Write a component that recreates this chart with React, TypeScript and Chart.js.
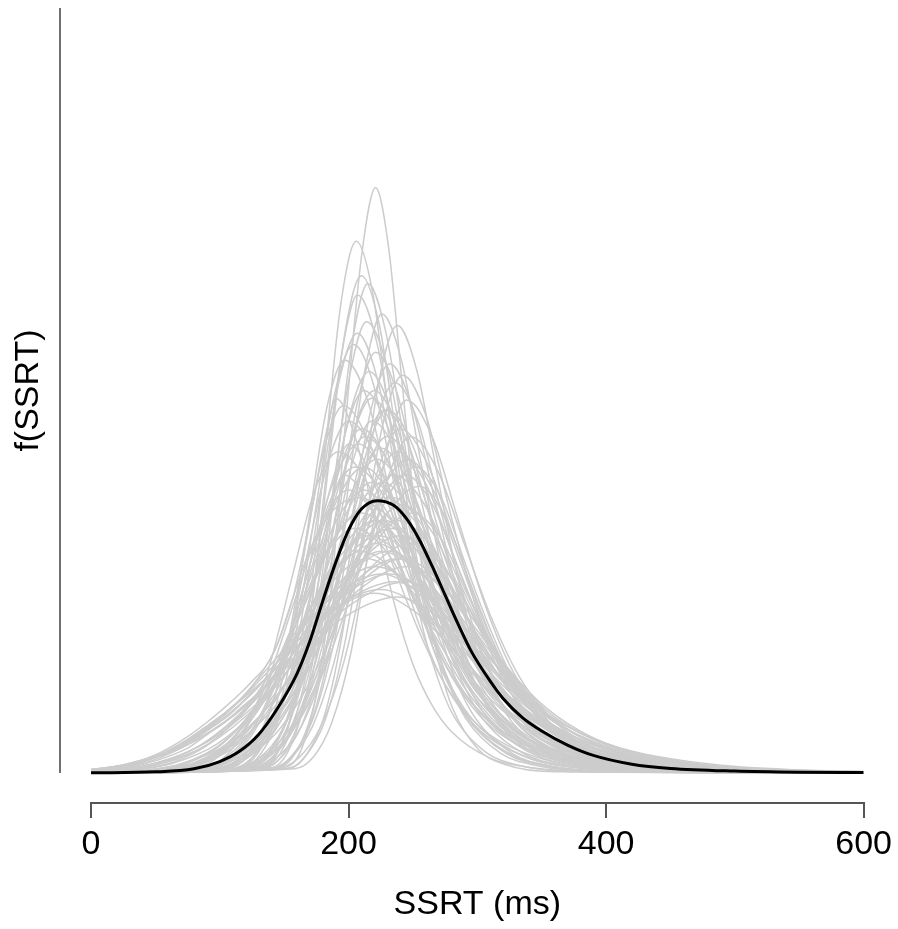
import React, { useEffect, useRef } from "react";
import { Chart, registerables } from "chart.js";

Chart.register(...registerables);

// ---- axis / text content ----
const X_TICKS = [0, 200, 400, 600];
const X_TITLE = "SSRT (ms)";
const Y_TITLE = "f(SSRT)";
const X_MIN = 0;
const X_MAX = 600;
// density in units of 1e-4 per ms
const Y_MAX = 200;
const Y_BELOW = 7.843; // room between baseline and the detached x axis
const FONT = '"Liberation Sans", Arial, Helvetica, sans-serif';

// ---- mean density (black) : [SSRT ms, density] ----
const meanCurve = [[0,0.05],[50,0.3],[80,1.1],[100,3],[115,5.6],[130,10],[145,17],[160,26],[170,34.5],[180,45],[190,55],[200,63.5],[210,69],[222,71.2],[235,70],[245,66.5],[255,61],[265,54],[275,46.5],[285,39],[295,32],[310,24],[320,19.5],[335,14.5],[350,11],[370,7.3],[390,4.6],[420,2.3],[450,1.2],[500,0.5],[550,0.2],[600,0.1]];

// ---- individual densities (grey) ----
const g01 = [[0,0],[152,1.7],[164,6.7],[175,20.7],[187,49.7],[198,92.9],[210,134.9],[221,153],[231,137.7],[241,104],[251,70.4],[261,44.4],[271,27.5],[281,16.8],[301,6.1],[321,2.3],[361,0.3],[600,0]];
const g02 = [[0,0],[134,1.5],[146,6.1],[158,18.8],[170,45.2],[182,84.4],[194,122.6],[206,139],[219,125.1],[231,94.5],[244,63.9],[256,40.3],[269,25],[281,15.3],[306,5.6],[331,2.1],[381,0.3],[600,0]];
const g03 = [[0,0],[132,1.4],[145,5.7],[158,17.6],[171,42.3],[184,78.9],[197,114.7],[210,130],[224,117],[237,88.4],[251,59.8],[264,37.7],[278,23.4],[291,14.3],[318,5.2],[345,2],[399,0.3],[600,0]];
const g04 = [[0,0],[132,1.4],[145,5.5],[157,16.9],[170,40.6],[182,75.9],[195,110.3],[207,125],[222,112.5],[236,85],[251,57.5],[265,36.3],[280,22.5],[294,13.8],[323,5],[352,1.9],[410,0.3],[600,0]];
const g05 = [[0,0],[133,1.3],[147,5.2],[160,15.9],[174,38.4],[187,71.6],[201,104.1],[214,118],[230,106.2],[245,80.2],[261,54.3],[276,34.2],[292,21.2],[307,13],[338,4.7],[369,1.8],[431,0.2],[600,0]];
const g06 = [[0,0],[117,1.3],[132,5.1],[147,15.5],[162,37.4],[177,69.8],[192,101.4],[207,115],[222,103.5],[237,78.2],[252,52.9],[267,33.4],[282,20.7],[297,12.7],[327,4.6],[357,1.7],[417,0.2],[600,0]];
const g07 = [[0,0],[154,1.3],[168,5.1],[182,15.8],[196,38],[210,71],[224,103.2],[238,117],[253,105.3],[268,79.6],[283,53.8],[298,33.9],[313,21.1],[328,12.9],[358,4.7],[388,1.8],[448,0.2],[600,0]];
const g08 = [[0,0],[134,1.2],[149,4.8],[163,14.9],[178,35.8],[192,66.8],[207,97],[221,110],[238,99],[254,74.8],[271,50.6],[287,31.9],[304,19.8],[320,12.1],[353,4.4],[386,1.7],[452,0.2],[600,0]];
const g09 = [[0,0],[142,1.2],[157,4.7],[172,14.4],[187,34.8],[202,64.9],[217,94.4],[232,107],[249,96.3],[266,72.8],[283,49.2],[300,31],[317,19.3],[334,11.8],[368,4.3],[402,1.6],[470,0.2],[600,0]];
const g10 = [[0,0],[120,1.2],[136,4.6],[152,14.2],[168,34.1],[184,63.7],[200,92.6],[216,105],[233,94.5],[249,71.4],[266,48.3],[282,30.5],[299,18.9],[315,11.6],[348,4.2],[381,1.6],[447,0.2],[600,0]];
const g11 = [[0,0],[158,1.1],[173,4.3],[187,13.2],[202,31.7],[216,59.2],[231,86],[245,97.5],[265,87.8],[285,66.3],[305,44.9],[325,28.3],[345,17.6],[365,10.7],[405,3.9],[445,1.5],[525,0.2],[600,0]];
const g13 = [[0,0],[118,1.1],[135,4.4],[152,13.5],[169,32.5],[186,60.7],[203,88.2],[220,100],[238,90],[255,68],[273,46],[290,29],[308,18],[325,11],[360,4],[395,1.5],[465,0.2],[600,0]];
const g14 = [[0,0],[123,1],[141,4.2],[158,12.8],[176,30.9],[193,57.7],[211,83.8],[228,95],[247,85.5],[265,64.6],[284,43.7],[302,27.6],[321,17.1],[339,10.5],[376,3.8],[413,1.4],[487,0.2],[600,0]];
const g15 = [[0,0],[101,1],[118,4],[134,12.4],[151,29.9],[167,55.8],[184,81.1],[200,92],[221,82.8],[241,62.6],[262,42.3],[282,26.7],[303,16.6],[323,10.1],[364,3.7],[405,1.4],[487,0.2],[600,0]];
const g16 = [[0,0],[138,1],[155,4],[172,12.2],[189,29.3],[206,54.6],[223,79.4],[240,90],[261,81],[282,61.2],[303,41.4],[324,26.1],[345,16.2],[366,9.9],[408,3.6],[450,1.4],[534,0.2],[600,0]];
const g17 = [[0,0],[102,1],[121,3.9],[139,11.9],[158,28.6],[176,53.4],[195,77.6],[213,88],[234,79.2],[254,59.8],[275,40.5],[295,25.5],[316,15.8],[336,9.7],[377,3.5],[418,1.3],[500,0.2],[600,0]];
const g18 = [[0,0],[111,0.9],[130,3.7],[149,11.5],[168,27.6],[187,51.6],[206,75],[225,85],[246,76.5],[267,57.8],[288,39.1],[309,24.7],[330,15.3],[351,9.4],[393,3.4],[435,1.3],[519,0.2],[600,0]];
const g19 = [[0,0],[111,0.9],[134,3.6],[156,11.1],[179,26.7],[201,49.8],[224,72.3],[246,82],[266,73.8],[286,55.8],[306,37.7],[326,23.8],[346,14.8],[366,9],[406,3.3],[446,1.2],[526,0.2],[600,0]];
const g20 = [[0,0],[85,0.9],[105,3.5],[125,10.8],[145,26],[165,48.6],[185,70.6],[205,80],[228,72],[250,54.4],[273,36.8],[295,23.2],[318,14.4],[340,8.8],[385,3.2],[430,1.2],[520,0.2],[600,0]];
const g21 = [[0,0],[115,0.9],[135,3.4],[155,10.5],[175,25.4],[195,47.3],[215,68.8],[235,78],[259,70.2],[282,53],[306,35.9],[329,22.6],[353,14],[376,8.6],[423,3.1],[470,1.2],[564,0.2],[600,0.1]];
const g22 = [[0,0],[92,0.8],[113,3.3],[134,10.3],[155,24.7],[176,46.1],[197,67],[218,76],[242,68.4],[266,51.7],[290,35],[314,22],[338,13.7],[362,8.4],[410,3],[458,1.1],[554,0.2],[600,0.1]];
const g24 = [[0,0],[96,0.8],[118,3.2],[140,9.7],[162,23.4],[184,43.7],[206,63.5],[228,72],[254,64.8],[279,49],[305,33.1],[330,20.9],[356,13],[381,7.9],[432,2.9],[483,1.1],[585,0.1],[600,0.1]];
const g25 = [[0,0],[77,0.8],[105,3.1],[132,9.5],[160,22.8],[187,42.5],[215,61.7],[242,70],[265,63],[287,47.6],[310,32.2],[332,20.3],[355,12.6],[377,7.7],[422,2.8],[467,1.1],[557,0.1],[600,0.1]];
const g26 = [[0,0],[66,0.7],[90,3],[114,9.2],[138,22.1],[162,41.3],[186,60],[210,68],[236,61.2],[262,46.2],[288,31.3],[314,19.7],[340,12.2],[366,7.5],[418,2.7],[470,1],[574,0.1],[600,0.1]];
const g27 = [[0,0],[81,0.7],[105,2.9],[128,8.9],[152,21.5],[175,40.1],[199,58.2],[222,66],[250,59.4],[278,44.9],[306,30.4],[334,19.1],[362,11.9],[390,7.3],[446,2.6],[502,1],[600,0.2]];
const g28 = [[0,0],[88,0.7],[112,2.8],[136,8.6],[160,20.8],[184,38.8],[208,56.4],[232,64],[261,57.6],[290,43.5],[319,29.4],[348,18.6],[377,11.5],[406,7],[464,2.6],[522,1],[600,0.3]];
const g29 = [[0,0],[59,0.7],[85,2.7],[111,8.4],[137,20.2],[163,37.6],[189,54.7],[215,62],[244,55.8],[273,42.2],[302,28.5],[331,18],[360,11.2],[389,6.8],[447,2.5],[505,0.9],[600,0.2]];
const g30 = [[0,0],[47,0.7],[81,2.6],[114,8.1],[148,19.5],[181,36.4],[215,52.9],[248,60],[273,54],[298,40.8],[323,27.6],[348,17.4],[373,10.8],[398,6.6],[448,2.4],[498,0.9],[600,0.1]];
const g31 = [[0,0],[60,0.6],[88,2.6],[115,7.8],[143,18.9],[170,35.2],[198,51.2],[225,58],[256,52.2],[287,39.4],[318,26.7],[349,16.8],[380,10.4],[411,6.4],[473,2.3],[535,0.9],[600,0.35]];
const g32 = [[0,0],[28,0.6],[63,2.5],[98,7.6],[133,18.2],[168,34],[203,49.4],[238,56],[266,50.4],[293,38.1],[321,25.8],[348,16.2],[376,10.1],[403,6.2],[458,2.2],[513,0.8],[600,0.2]];
const g33 = [[0,0],[40,0.6],[70,2.4],[100,7.3],[130,17.6],[160,32.8],[190,47.6],[220,54],[253,48.6],[286,36.7],[319,24.8],[352,15.7],[385,9.7],[418,5.9],[484,2.2],[550,0.8],[600,0.4]];
const g34 = [[0,0.2],[10,0.6],[47,2.3],[84,7],[121,16.9],[158,31.6],[195,45.9],[232,52],[262,46.8],[292,35.4],[322,23.9],[352,15.1],[382,9.4],[412,5.7],[472,2.1],[532,0.8],[600,0.3]];
const g35 = [[0,0.9],[28,2.2],[71,6.8],[115,16.3],[158,30.4],[202,44.1],[245,50],[273,45],[300,34],[328,23],[355,14.5],[383,9],[410,5.5],[465,2],[520,0.8],[600,0.2]];
const g36 = [[0,0.9],[25,2.1],[65,6.5],[105,15.6],[145,29.1],[185,42.3],[225,48],[256,43.2],[287,32.6],[318,22.1],[349,13.9],[380,8.6],[411,5.3],[473,1.9],[535,0.7],[600,0.3]];
const g37 = [[0,0.9],[26,2],[68,6.2],[111,15],[153,27.9],[196,40.6],[238,46],[267,41.4],[296,31.3],[325,21.2],[354,13.3],[383,8.3],[412,5.1],[470,1.8],[528,0.7],[600,0.3]];
const g39 = [[0,0],[113,1.2],[127,4.8],[141,14.6],[155,35.1],[169,65.6],[183,95.3],[197,108],[215,97.2],[232,73.4],[250,49.7],[267,31.3],[285,19.4],[302,11.9],[337,4.3],[372,1.6],[442,0.2],[600,0]];
const g40 = [[0,0],[143,1],[161,3.9],[178,11.9],[196,28.6],[213,53.4],[231,77.6],[248,88],[269,79.2],[290,59.8],[311,40.5],[332,25.5],[353,15.8],[374,9.7],[416,3.5],[458,1.3],[542,0.2],[600,0]];
const g41 = [[0,0],[84,0.9],[102,3.7],[120,11.3],[138,27.3],[156,51],[174,74.1],[192,84],[215,75.6],[237,57.1],[260,38.6],[282,24.4],[305,15.1],[327,9.2],[372,3.4],[417,1.3],[507,0.2],[600,0]];
const g42 = [[0,0],[87,0.8],[115,3.3],[143,10.1],[171,24.4],[199,45.5],[227,66.2],[255,75],[274,67.5],[293,51],[312,34.5],[331,21.8],[350,13.5],[369,8.3],[407,3],[445,1.1],[521,0.2],[600,0]];
const g43 = [[0,0],[122,1.1],[137,4.4],[152,13.5],[167,32.5],[182,60.7],[197,88.2],[212,100],[231,90],[250,68],[269,46],[288,29],[307,18],[326,11],[364,4],[402,1.5],[478,0.2],[600,0]];
const g44 = [[0,0],[140,1.1],[156,4.5],[172,13.8],[188,33.2],[204,61.9],[220,90],[236,102],[254,91.8],[271,69.4],[289,46.9],[306,29.6],[324,18.4],[341,11.2],[376,4.1],[411,1.5],[481,0.2],[600,0]];
const n01 = [[0,0],[125,1],[141,4],[156,12.4],[172,29.9],[187,55.8],[203,81.1],[218,92],[239,82.8],[260,62.6],[281,42.3],[302,26.7],[323,16.6],[344,10.1],[386,3.7],[428,1.4],[512,0.2],[600,0]];
const n02 = [[0,0],[122,1],[140,3.9],[158,11.9],[176,28.6],[194,53.4],[212,77.6],[230,88],[251,79.2],[271,59.8],[292,40.5],[312,25.5],[333,15.8],[353,9.7],[394,3.5],[435,1.3],[517,0.2],[600,0]];
const n03 = [[0,0],[88,0.9],[108,3.8],[128,11.6],[148,28],[168,52.2],[188,75.9],[208,86],[228,77.4],[248,58.5],[268,39.6],[288,24.9],[308,15.5],[328,9.5],[368,3.4],[408,1.3],[488,0.2],[600,0]];
const n04 = [[0,0],[124,0.9],[143,3.7],[162,11.3],[181,27.3],[200,51],[219,74.1],[238,84],[260,75.6],[281,57.1],[303,38.6],[324,24.4],[346,15.1],[367,9.2],[410,3.4],[453,1.3],[539,0.2],[600,0]];
const n05 = [[0,0],[96,0.9],[117,3.6],[138,11.1],[159,26.7],[180,49.8],[201,72.3],[222,82],[243,73.8],[264,55.8],[285,37.7],[306,23.8],[327,14.8],[348,9],[390,3.3],[432,1.2],[516,0.2],[600,0]];
const n06 = [[0,0],[80,0.9],[102,3.5],[124,10.8],[146,26],[168,48.6],[190,70.6],[212,80],[233,72],[254,54.4],[275,36.8],[296,23.2],[317,14.4],[338,8.8],[380,3.2],[422,1.2],[506,0.2],[600,0]];
const n07 = [[0,0],[106,0.9],[129,3.4],[152,10.5],[175,25.4],[198,47.3],[221,68.8],[244,78],[265,70.2],[286,53],[307,35.9],[328,22.6],[349,14],[370,8.6],[412,3.1],[454,1.2],[538,0.2],[600,0]];
const n08 = [[0,0],[94,0.8],[116,3.3],[138,10.3],[160,24.7],[182,46.1],[204,67],[226,76],[249,68.4],[272,51.7],[295,35],[318,22],[341,13.7],[364,8.4],[410,3],[456,1.1],[548,0.2],[600,0.1]];
const n09 = [[0,0],[74,0.8],[95,3.3],[116,10],[137,24.1],[158,44.9],[179,65.3],[200,74],[222,66.6],[244,50.3],[266,34],[288,21.5],[310,13.3],[332,8.1],[376,3],[420,1.1],[508,0.1],[600,0]];
const n10 = [[0,0],[84,0.8],[109,3.2],[134,9.7],[159,23.4],[184,43.7],[209,63.5],[234,72],[257,64.8],[280,49],[303,33.1],[326,20.9],[349,13],[372,7.9],[418,2.9],[464,1.1],[556,0.1],[600,0.1]];
const n11 = [[0,0],[60,0.8],[86,3.1],[112,9.5],[138,22.8],[164,42.5],[190,61.7],[216,70],[240,63],[263,47.6],[287,32.2],[310,20.3],[334,12.6],[357,7.7],[404,2.8],[451,1.1],[545,0.1],[600,0.1]];
const n12 = [[0,0],[70,0.7],[100,3],[130,9.2],[160,22.1],[190,41.3],[220,60],[250,68],[272,61.2],[293,46.2],[315,31.3],[336,19.7],[358,12.2],[379,7.5],[422,2.7],[465,1],[551,0.1],[600,0.1]];
const n13 = [[0,0],[60,0.7],[88,2.9],[116,8.9],[144,21.5],[172,40.1],[200,58.2],[228,66],[253,59.4],[277,44.9],[302,30.4],[326,19.1],[351,11.9],[375,7.3],[424,2.6],[473,1],[571,0.1],[600,0.1]];
const n14 = [[0,0],[61,0.7],[85,2.8],[109,8.6],[133,20.8],[157,38.8],[181,56.4],[205,64],[230,57.6],[254,43.5],[279,29.4],[303,18.6],[328,11.5],[352,7],[401,2.6],[450,1],[548,0.1],[600,0.1]];
const n15 = [[0,0],[48,0.7],[80,2.7],[112,8.4],[144,20.2],[176,37.6],[208,54.7],[240,62],[265,55.8],[289,42.2],[314,28.5],[338,18],[363,11.2],[387,6.8],[436,2.5],[485,0.9],[583,0.1],[600,0.1]];
const n16 = [[0,0],[30,0.7],[62,2.6],[94,8.1],[126,19.5],[158,36.4],[190,52.9],[222,60],[248,54],[274,40.8],[300,27.6],[326,17.4],[352,10.8],[378,6.6],[430,2.4],[482,0.9],[586,0.1],[600,0.1]];
const n17 = [[0,0.1],[22,0.6],[57,2.6],[92,7.8],[127,18.9],[162,35.2],[197,51.2],[232,58],[258,52.2],[283,39.4],[309,26.7],[334,16.8],[360,10.4],[385,6.4],[436,2.3],[487,0.9],[589,0.1],[600,0.1]];
const n18 = [[0,0],[46,0.6],[74,2.5],[102,7.6],[130,18.2],[158,34],[186,49.4],[214,56],[242,50.4],[269,38.1],[297,25.8],[324,16.2],[352,10.1],[379,6.2],[434,2.2],[489,0.8],[599,0.1]];
const n19 = [[0,0.3],[12,0.6],[51,2.4],[90,7.3],[129,17.6],[168,32.8],[207,47.6],[246,54],[273,48.6],[299,36.7],[326,24.8],[352,15.7],[379,9.7],[405,5.9],[458,2.2],[511,0.8],[617,0.1]];
const n20 = [[0,0.8],[31,2.3],[70,7],[109,16.9],[148,31.6],[187,45.9],[226,52],[255,46.8],[283,35.4],[312,23.9],[340,15.1],[369,9.4],[397,5.7],[454,2.1],[511,0.8],[625,0.1]];
const n21 = [[0,0.9],[26,2.2],[68,6.8],[110,16.3],[152,30.4],[194,44.1],[236,50],[265,45],[293,34],[322,23],[350,14.5],[379,9],[407,5.5],[464,2],[521,0.8],[635,0.1]];
const n22 = [[0,0.3],[10,0.5],[45,2.1],[80,6.3],[115,15.3],[150,28.5],[185,41.5],[220,47],[251,42.3],[282,32],[313,21.6],[344,13.6],[375,8.5],[406,5.2],[468,1.9],[530,0.7],[654,0.1]];
const n23 = [[0,0],[140,1.4],[153,5.6],[165,17.3],[178,41.6],[190,77.7],[203,112.9],[215,128],[229,115.2],[243,87],[257,58.9],[271,37.1],[285,23],[299,14.1],[327,5.1],[355,1.9],[411,0.3],[600,0]];
const n24 = [[0,0],[145,1.3],[159,5.3],[172,16.2],[186,39],[199,72.8],[213,105.8],[226,120],[241,108],[256,81.6],[271,55.2],[286,34.8],[301,21.6],[316,13.2],[346,4.8],[376,1.8],[436,0.2],[600,0]];
const n25 = [[0,0],[114,1.2],[129,4.9],[144,15.1],[159,36.4],[174,68],[189,98.8],[204,112],[220,100.8],[235,76.2],[251,51.5],[266,32.5],[282,20.2],[297,12.3],[328,4.5],[359,1.7],[421,0.2],[600,0]];
const n26 = [[0,0],[152,1.1],[167,4.6],[182,14],[197,33.8],[212,63.1],[227,91.7],[242,104],[260,93.6],[277,70.7],[295,47.8],[312,30.2],[330,18.7],[347,11.4],[382,4.2],[417,1.6],[487,0.2],[600,0]];
const n27 = [[0,0],[122,1.1],[138,4.3],[154,13.2],[170,31.9],[186,59.5],[202,86.4],[218,98],[237,88.2],[256,66.6],[275,45.1],[294,28.4],[313,17.6],[332,10.8],[370,3.9],[408,1.5],[484,0.2],[600,0]];
const n28 = [[0,0],[131,1],[148,4.2],[164,12.8],[181,30.9],[197,57.7],[214,83.8],[230,95],[250,85.5],[269,64.6],[289,43.7],[308,27.6],[328,17.1],[347,10.5],[386,3.8],[425,1.4],[503,0.2],[600,0]];
const n29 = [[0,0],[106,1.1],[121,4.2],[136,13],[151,31.2],[166,58.3],[181,84.7],[196,96],[216,86.4],[236,65.3],[256,44.2],[276,27.8],[296,17.3],[316,10.6],[356,3.8],[396,1.4],[476,0.2],[600,0]];
const n30 = [[0,0],[108,0.9],[132,3.5],[156,10.8],[180,26],[204,48.6],[228,70.6],[252,80],[272,72],[291,54.4],[311,36.8],[330,23.2],[350,14.4],[369,8.8],[408,3.2],[447,1.2],[525,0.2],[600,0]];
const n31 = [[0,0],[108,1],[125,4],[142,12.2],[159,29.3],[176,54.6],[193,79.4],[210,90],[231,81],[251,61.2],[272,41.4],[292,26.1],[313,16.2],[333,9.9],[374,3.6],[415,1.4],[497,0.2],[600,0]];
const n32 = [[0,0],[44,0.7],[74,2.7],[104,8.4],[134,20.2],[164,37.6],[194,54.7],[224,62],[250,55.8],[276,42.2],[302,28.5],[328,18],[354,11.2],[380,6.8],[432,2.5],[484,0.9],[588,0.1],[600,0.1]];
const n33 = [[0,0],[82,0.7],[108,2.9],[134,8.9],[160,21.5],[186,40.1],[212,58.2],[238,66],[264,59.4],[290,44.9],[316,30.4],[342,19.1],[368,11.9],[394,7.3],[446,2.6],[498,1],[602,0.1]];
const n34 = [[0,0],[54,0.6],[80,2.6],[106,7.8],[132,18.9],[158,35.2],[184,51.2],[210,58],[237,52.2],[264,39.4],[291,26.7],[318,16.8],[345,10.4],[372,6.4],[426,2.3],[480,0.9],[588,0.1],[600,0.1]];
const n35 = [[0,0],[38,0.6],[72,2.5],[106,7.6],[140,18.2],[174,34],[208,49.4],[242,56],[270,50.4],[298,38.1],[326,25.8],[354,16.2],[382,10.1],[410,6.2],[466,2.2],[522,0.8],[634,0.1]];
const k01 = [[0,0.5],[30,1.8],[53,4.5],[75,8.5],[92,12.5],[105,16],[118,20],[128,24],[136,28],[144,33],[150,38.5],[157,46],[165,58],[172,70],[179,83],[184,91],[190,98],[205,88],[220,67],[235,45],[250,28.4],[265,17.6],[280,10.8],[310,3.9],[340,1.5],[400,0.2],[600,0]];
const k02 = [[0,0.4],[30,1.5],[53,3.5],[75,6.5],[92,10.5],[105,13.5],[118,17.5],[130,21],[140,24.5],[150,30],[160,40],[170,52],[180,64],[188,72],[196,78],[216,70],[236,53],[256,36],[276,22.6],[296,14],[316,8.6],[356,3.1],[396,1.2],[476,0.2],[600,0]];
const k03 = [[0,0.6],[30,2.4],[53,5.2],[75,9.5],[92,13.8],[105,17.5],[118,21.5],[128,25],[136,28],[145,34],[155,44],[165,54],[175,62],[185,67.5],[197,71],[210,72],[230,65],[250,49],[270,33],[290,21],[310,13],[330,7.9],[370,2.9],[410,1.1],[490,0.1],[600,0]];
const k04 = [[0,0.3],[30,1.2],[53,2.8],[75,5.5],[92,8.5],[105,11.5],[118,15],[130,18.5],[140,22],[155,30],[165,40],[175,52],[185,62],[198,70],[212,74],[233,66.6],[254,50.3],[275,34],[296,21.5],[317,13.3],[338,8.1],[380,3],[422,1.1],[506,0.2],[600,0]];
const k05 = [[0,0.4],[30,1.6],[53,3.9],[75,7.5],[92,11.5],[105,14.5],[118,18.5],[130,22.5],[140,26.5],[148,31],[156,38],[164,47],[172,57],[180,67],[188,77],[194,83],[200,86],[218,77.4],[236,58.5],[254,39.6],[272,24.9],[290,15.5],[308,9.5],[344,3.4],[380,1.3],[452,0.2],[600,0]];
const k06 = [[0,0.5],[30,2],[53,4.8],[75,8.8],[92,12.8],[105,16],[118,19.5],[130,23],[140,26],[150,30],[160,36],[170,43],[180,50],[190,56],[200,61],[210,64.5],[220,66],[242,59.4],[264,44.9],[286,30.4],[308,19.1],[330,11.9],[352,7.3],[396,2.6],[440,1],[528,0.1],[600,0]];

const greyCurves = [
  g01, g02, g03, g04, g05, g06, g07, g08, g09, g10, g11, g13, g14, g15, g16,
  g17, g18, g19, g20, g21, g22, g24, g25, g26, g27, g28, g29, g30, g31, g32,
  g33, g34, g35, g36, g37, g39, g40, g41, g42, g43, g44,
  n01, n02, n03, n04, n05, n06, n07, n08, n09, n10, n11, n12, n13, n14, n15,
  n16, n17, n18, n19, n20, n21, n22, n23, n24, n25, n26, n27, n28, n29, n30,
  n31, n32, n33, n34, n35,
  k01, k02, k03, k04, k05, k06,
];

const toXY = (c: number[][]) => c.map(([x, y]) => ({ x, y }));

const yAxisPlugin = {
  id: "detachedYAxis",
  afterDraw(chart: any) {
    const { ctx, chartArea } = chart;
    const y = chart.scales.y;
    const top = y.getPixelForValue(Y_MAX);
    const bottom = y.getPixelForValue(0);
    const x = chartArea.left - 31;
    ctx.save();
    ctx.strokeStyle = "#707070";
    ctx.lineWidth = 2;
    ctx.beginPath();
    ctx.moveTo(x, top);
    ctx.lineTo(x, bottom);
    ctx.stroke();
    ctx.translate(29, (top + bottom) / 2);
    ctx.rotate(-Math.PI / 2);
    ctx.font = `34px ${FONT}`;
    ctx.fillStyle = "#000";
    ctx.textAlign = "center";
    ctx.textBaseline = "middle";
    ctx.fillText(Y_TITLE, 0, 0);
    ctx.restore();
  },
};

export default function App() {
  const ref = useRef<HTMLCanvasElement | null>(null);

  useEffect(() => {
    if (!ref.current) return;
    const common = {
      pointRadius: 0,
      pointHoverRadius: 0,
      fill: false,
      cubicInterpolationMode: "monotone" as const,
    };
    const chart = new Chart(ref.current, {
      type: "line",
      data: {
        datasets: [
          {
            ...common,
            data: toXY(meanCurve),
            borderColor: "#000000",
            borderWidth: 3,
            order: 0,
          },
          ...greyCurves.map((c) => ({
            ...common,
            data: toXY(c),
            borderColor: "#cccccc",
            borderWidth: 1.5,
            order: 1,
          })),
        ],
      },
      options: {
        animation: false,
        responsive: false,
        events: [],
        layout: { padding: { left: 91, right: 33, top: 8, bottom: 0 } },
        plugins: {
          legend: { display: false },
          tooltip: { enabled: false },
        },
        scales: {
          x: {
            type: "linear",
            position: "bottom",
            min: X_MIN,
            max: X_MAX,
            afterBuildTicks: (s: any) => {
              s.ticks = X_TICKS.map((v) => ({ value: v }));
            },
            ticks: {
              autoSkip: false,
              maxRotation: 0,
              padding: 6,
              color: "#000",
              font: { family: FONT, size: 34 },
              callback: (v: any) => String(v),
            },
            grid: {
              display: true,
              drawOnChartArea: false,
              drawTicks: true,
              tickLength: 15,
              tickColor: "#555555",
              tickWidth: 2,
              color: "#555555",
              lineWidth: 2,
            },
            border: { display: true, color: "#555555", width: 2 },
            title: {
              display: true,
              text: X_TITLE,
              color: "#000",
              font: { family: FONT, size: 34 },
              padding: { top: 13.4, bottom: 4 },
            },
          },
          y: {
            type: "linear",
            display: false,
            min: -Y_BELOW,
            max: Y_MAX,
          },
        },
      } as any,
      plugins: [yAxisPlugin],
    });
    return () => chart.destroy();
  }, []);

  return (
    <div
      style={{
        position: "fixed",
        left: 0,
        top: 0,
        width: 898,
        height: 929,
        background: "#ffffff",
      }}
    >
      <canvas ref={ref} width={898} height={929} style={{ display: "block" }} />
    </div>
  );
}
